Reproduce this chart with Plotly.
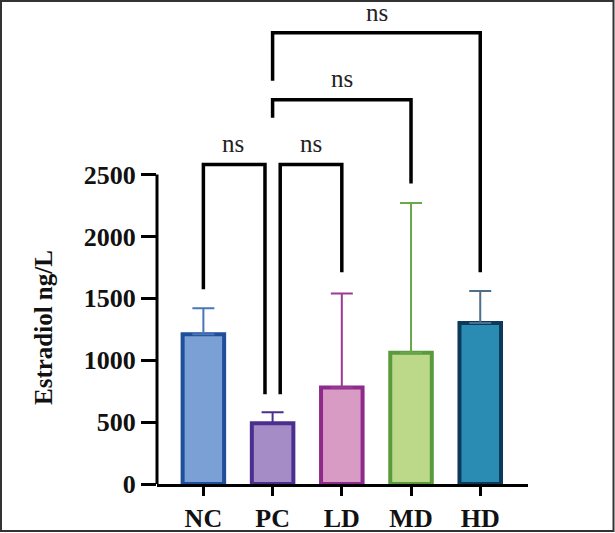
import plotly.graph_objects as go

categories = ["NC", "PC", "LD", "MD", "HD"]
means = [1210, 490, 780, 1060, 1300]
errors = [210, 90, 760, 1210, 260]
fill_colors = ["#7aa0d6", "#a68cc6", "#d89cc4", "#bcd98a", "#2a8bb3"]
edge_colors = ["#1f4e9a", "#4b2f8f", "#8e2a8a", "#5a9a3c", "#0d3a5a"]
err_colors = ["#4a75b8", "#4b2f8f", "#9a3a96", "#6aa84a", "#4d6f8a"]
y_ticks = [0, 500, 1000, 1500, 2000, 2500]

# significance brackets: (x_left, x_right, y_bar, y_left_end, y_right_end, label_x, label_y)
brackets = [
    (0.0, 0.89, 2581, 1573, 726, 0.43, 2750),
    (1.11, 2.0, 2581, 726, 1710, 1.56, 2750),
    (1.0, 3.0, 3105, 2960, 2427, 2.0, 3274),
    (1.0, 4.0, 3645, 3258, 1710, 2.51, 3806),
]

W, H = 615, 533
ml, mr, mt, mb = 157, 87, 5, 49
pw, ph = W - ml - mr, H - mt - mb

def px_x(p):
    return (p - ml) / pw

def px_y(p):
    return (H - mb - p) / ph

fig = go.Figure()
for i, c in enumerate(categories):
    fig.add_trace(go.Bar(
        x=[i], y=[means[i]], width=0.6,
        marker=dict(color=fill_colors[i], line=dict(color=edge_colors[i], width=4)),
        error_y=dict(type="data", array=[errors[i]], arrayminus=[0], symmetric=False,
                     color=err_colors[i], thickness=2, width=11),
        showlegend=False, hoverinfo="skip",
    ))

shapes = []
for (xl, xr, yb, yle, yre, lx, ly) in brackets:
    shapes.append(dict(type="path", xref="x", yref="y",
                       path=f"M {xl},{yle} L {xl},{yb} L {xr},{yb} L {xr},{yre}",
                       line=dict(color="black", width=3.5)))

# y axis line (only up to 2500)
shapes.append(dict(type="line", xref="paper", yref="y", x0=0, x1=0, y0=0, y1=2500,
                   line=dict(color="black", width=3)))
# frame around figure
shapes.append(dict(type="rect", xref="paper", yref="paper",
                   x0=px_x(1), x1=px_x(613.5), y0=px_y(531), y1=px_y(1),
                   line=dict(color="#333333", width=2)))

annotations = []
for (xl, xr, yb, yle, yre, lx, ly) in brackets:
    annotations.append(dict(x=lx, y=ly, xref="x", yref="y", text="ns", showarrow=False,
                            font=dict(family="Liberation Serif", size=25, color="#222"),
                            xanchor="center", yanchor="middle"))
annotations.append(dict(x=px_x(44), y=px_y(328), xref="paper", yref="paper",
                        text="Estradiol ng/L", textangle=-90, showarrow=False,
                        font=dict(family="Liberation Serif", size=25, color="#111", weight="bold"),
                        xanchor="center", yanchor="middle"))

fig.update_layout(
    width=W, height=H,
    margin=dict(l=ml, r=mr, t=mt, b=mb, pad=0, autoexpand=False),
    paper_bgcolor="white", plot_bgcolor="white",
    barmode="overlay",
    shapes=shapes, annotations=annotations,
    xaxis=dict(range=[-0.67, 4.69], tickvals=list(range(len(categories))), ticktext=categories,
               showline=True, linecolor="black", linewidth=3, ticks="outside", ticklen=9,
               tickwidth=3, tickcolor="black", showgrid=False, zeroline=False, automargin=False,
               tickfont=dict(family="Liberation Serif", size=26, color="#111", weight="bold")),
    yaxis=dict(range=[0, 3870], tickvals=y_ticks, ticktext=[str(v) for v in y_ticks],
               showline=False, ticks="outside", ticklen=15, tickwidth=3, tickcolor="black",
               showgrid=False, zeroline=False, automargin=False,
               tickfont=dict(family="Liberation Serif", size=26, color="#111", weight="bold")),
)

fig.write_html("out.html", config={"displayModeBar": False, "staticPlot": True})

# remove the default page margin so the figure fills the window exactly
css = "<style>html,body{margin:0;padding:0;overflow:hidden;}</style>"
with open("out.html", "r", encoding="utf-8") as f:
    html = f.read()
html = html.replace("<head>", "<head>" + css, 1)
with open("out.html", "w", encoding="utf-8") as f:
    f.write(html)
